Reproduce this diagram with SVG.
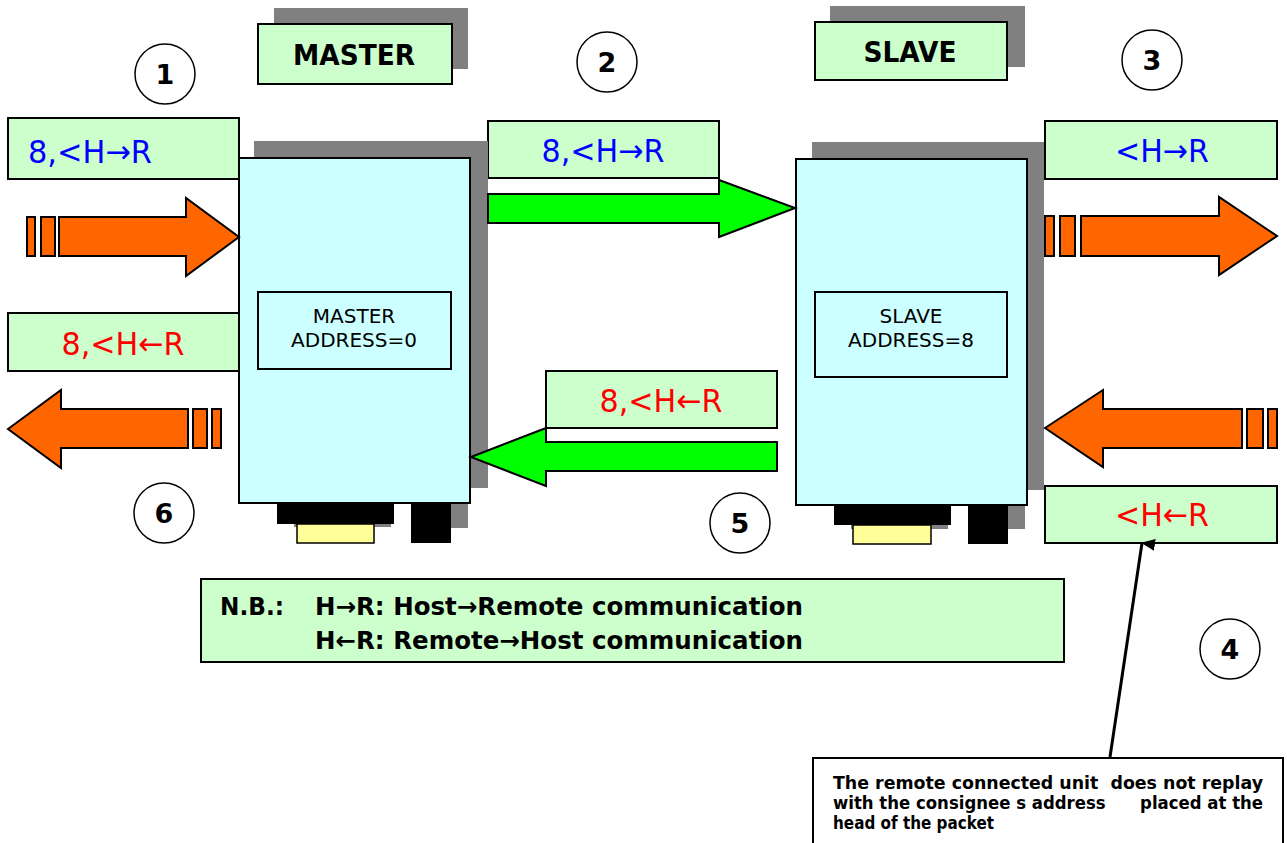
<svg xmlns="http://www.w3.org/2000/svg" width="1287" height="843" viewBox="0 0 1287 843">
<defs>
<style>
.lbl{fill:#CCFFCC;stroke:#000;stroke-width:2}
.dev{fill:#CCFFFF;stroke:#000;stroke-width:2}
.sh{fill:#808080}
.blk{fill:#000}
.yel{fill:#FFFF99;stroke:#000;stroke-width:1.5}
.org{fill:#FF6600;stroke:#000;stroke-width:2;stroke-linejoin:miter}
.grn{fill:#00FF00;stroke:#000;stroke-width:2}
.circ{fill:#fff;stroke:#000;stroke-width:1.5}
.num{font-family:"DejaVu Sans",sans-serif;font-weight:bold;font-size:27px;text-anchor:middle}
.big{font-family:"DejaVu Sans",sans-serif;font-size:32px;text-anchor:middle}
.blue{fill:#0000FF}
.red{fill:#FF0000}
.title{font-family:"DejaVu Sans",sans-serif;font-weight:bold;font-size:29px;text-anchor:middle}
.inner{font-family:"DejaVu Sans",sans-serif;font-size:20px;text-anchor:middle}
.nb{font-family:"DejaVu Sans",sans-serif;font-weight:bold;font-size:25px}
.note{font-family:"DejaVu Sans",sans-serif;font-weight:bold;font-size:17px}
</style>
<marker id="tri" markerWidth="12" markerHeight="14" refX="6" refY="1" orient="auto-start-reverse" markerUnits="userSpaceOnUse" viewBox="0 0 12 14">
<path d="M6,0 L12,14 L0,14 Z" fill="#000"/>
</marker>
</defs>

<g id="master-title">
<rect class="sh" x="274" y="8" width="194" height="61"/>
<rect class="lbl" x="258" y="24" width="194" height="60"/>
<text class="title" x="354" y="65" textLength="122" lengthAdjust="spacingAndGlyphs">MASTER</text>
</g>
<g id="slave-title">
<rect class="sh" x="830" y="6" width="195" height="61"/>
<rect class="lbl" x="815" y="22" width="192" height="58"/>
<text class="title" x="910" y="62" textLength="93" lengthAdjust="spacingAndGlyphs">SLAVE</text>
</g>

<g id="label-1">
<rect class="lbl" x="8" y="118" width="231" height="61"/>
<text class="big blue" x="90" y="163" textLength="124" lengthAdjust="spacingAndGlyphs">8,&lt;H→R</text>
</g>
<g id="label-6">
<rect class="lbl" x="8" y="313" width="231" height="58"/>
<text class="big red" x="123" y="355" textLength="123" lengthAdjust="spacingAndGlyphs">8,&lt;H←R</text>
</g>
<g id="label-2">
<rect class="lbl" x="488" y="121" width="231" height="57"/>
<text class="big blue" x="603" y="162" textLength="123" lengthAdjust="spacingAndGlyphs">8,&lt;H→R</text>
</g>
<g id="label-5">
<rect class="lbl" x="546" y="371" width="231" height="57"/>
<text class="big red" x="661" y="412" textLength="123" lengthAdjust="spacingAndGlyphs">8,&lt;H←R</text>
</g>
<g id="label-3">
<rect class="lbl" x="1045" y="121" width="232" height="58"/>
<text class="big blue" x="1162" y="162" textLength="94" lengthAdjust="spacingAndGlyphs">&lt;H→R</text>
</g>
<g id="label-4">
<rect class="lbl" x="1045" y="486" width="232" height="57"/>
<text class="big red" x="1162" y="526" textLength="94" lengthAdjust="spacingAndGlyphs">&lt;H←R</text>
</g>

<g id="master-device">
<rect class="sh" x="254" y="141" width="234" height="347"/>
<rect class="sh" x="428" y="488" width="40" height="40"/>
<rect class="sh" x="294" y="506" width="97" height="21"/>
<rect class="dev" x="239" y="158" width="231" height="345"/>
<rect class="blk" x="277" y="503" width="117" height="21"/>
<rect class="yel" x="297" y="524" width="77" height="19"/>
<rect class="blk" x="411" y="503" width="40" height="40"/>
<rect class="dev" x="258" y="292" width="193" height="77"/>
<text class="inner" x="354" y="323">MASTER</text>
<text class="inner" x="354" y="347">ADDRESS=0</text>
</g>

<g id="slave-device">
<rect class="sh" x="812" y="142" width="232" height="348"/>
<rect class="sh" x="985" y="490" width="40" height="39"/>
<rect class="sh" x="851" y="508" width="97" height="21"/>
<rect class="dev" x="796" y="159" width="231" height="346"/>
<rect class="blk" x="834" y="505" width="117" height="20"/>
<rect class="yel" x="853" y="525" width="78" height="19"/>
<rect class="blk" x="968" y="505" width="40" height="39"/>
<rect class="dev" x="815" y="292" width="192" height="85"/>
<text class="inner" x="911" y="323">SLAVE</text>
<text class="inner" x="911" y="347">ADDRESS=8</text>
</g>

<g id="connectors">
<g id="arrow-1">
<rect class="org" x="27" y="217" width="8" height="39"/>
<rect class="org" x="41" y="217" width="14" height="39"/>
<polygon class="org" points="59,217 186,217 186,198 239,237 186,276 186,256 59,256"/>
</g>
<g id="arrow-6">
<polygon class="org" points="8,429 61,390 61,409 188,409 188,448 61,448 61,468"/>
<rect class="org" x="193" y="409" width="14" height="39"/>
<rect class="org" x="212" y="409" width="9" height="39"/>
</g>
<g id="arrow-3">
<rect class="org" x="1045" y="216" width="9" height="40"/>
<rect class="org" x="1060" y="216" width="15" height="40"/>
<polygon class="org" points="1081,216 1219,216 1219,197 1277,236 1219,275 1219,256 1081,256"/>
</g>
<g id="arrow-4">
<polygon class="org" points="1045,428 1103,390 1103,409 1242,409 1242,448 1103,448 1103,467"/>
<rect class="org" x="1247" y="409" width="16" height="39"/>
<rect class="org" x="1268" y="409" width="9" height="39"/>
</g>
<polygon id="arrow-2" class="grn" points="488,194 719,194 719,180 795,208 719,237 719,223 488,223"/>
<polygon id="arrow-5" class="grn" points="471,457 546,428 546,442 777,442 777,471 546,471 546,486"/>
<line id="callout" x1="1110" y1="757" x2="1142" y2="543" stroke="#000" stroke-width="3" marker-end="url(#tri)"/>
</g>

<g id="step-1"><circle class="circ" cx="165" cy="74" r="30"/><text class="num" x="165" y="84">1</text></g>
<g id="step-2"><circle class="circ" cx="607" cy="62" r="30"/><text class="num" x="607" y="72">2</text></g>
<g id="step-3"><circle class="circ" cx="1152" cy="60" r="30"/><text class="num" x="1152" y="70">3</text></g>
<g id="step-4"><circle class="circ" cx="1230" cy="649" r="30"/><text class="num" x="1230" y="659">4</text></g>
<g id="step-5"><circle class="circ" cx="740" cy="523" r="30"/><text class="num" x="740" y="533">5</text></g>
<g id="step-6"><circle class="circ" cx="164" cy="513" r="30"/><text class="num" x="164" y="523">6</text></g>

<g id="nb">
<rect class="lbl" x="201" y="579" width="863" height="83"/>
<text class="nb" x="220" y="615" textLength="64" lengthAdjust="spacingAndGlyphs">N.B.:</text>
<text class="nb" x="315" y="615" textLength="488" lengthAdjust="spacingAndGlyphs">H→R: Host→Remote communication</text>
<text class="nb" x="315" y="649" textLength="488" lengthAdjust="spacingAndGlyphs">H←R: Remote→Host communication</text>
</g>

<g id="note">
<rect x="813" y="758" width="470" height="100" fill="#fff" stroke="#000" stroke-width="2"/>
<text class="note" x="833" y="789" textLength="430" lengthAdjust="spacingAndGlyphs" xml:space="preserve">The remote connected unit  does not replay</text>
<text class="note" x="833" y="809" textLength="430" lengthAdjust="spacingAndGlyphs" xml:space="preserve">with the consignee s address      placed at the</text>
<text class="note" x="833" y="829" textLength="161" lengthAdjust="spacingAndGlyphs">head of the packet</text>
</g>
</svg>
